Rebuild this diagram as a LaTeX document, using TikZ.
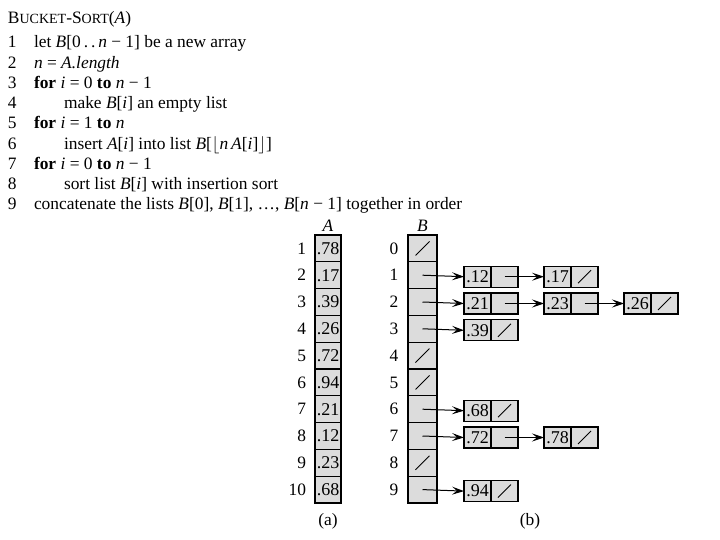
\documentclass[tikz,border=0pt]{standalone}
\usepackage{fontspec}
\setmainfont{Liberation Serif}
\usetikzlibrary{arrows.meta}
\definecolor{cellgray}{RGB}{220,220,220}
\newcommand\myfs{\fontsize{17.4}{20}\selectfont}
\newcommand\valfs{\fontsize{18}{20}\selectfont}
\newcommand\mysc{\fontsize{14}{15}\selectfont}
\tikzset{
  base/.style={inner sep=0pt, outer sep=0pt, font=\myfs},
  codeline/.style={base, anchor=base west},
  acell/.style={base, font=\valfs, draw=black, fill=cellgray, line width=1.1pt, minimum width=26pt, minimum height=26.8pt},
  bcell/.style={base, draw=black, fill=cellgray, line width=1.1pt, minimum width=29pt, minimum height=26.8pt},
  keycell/.style={base, font=\valfs, draw=black, fill=cellgray, line width=1.1pt, minimum width=27pt, minimum height=21pt},
  ptrcell/.style={keycell},
  idx/.style={base},
  ptr/.style={line width=1pt, -{Stealth[length=12pt,width=8pt,inset=5pt]}},
  nil/.style={line width=0.9pt}
}
\begin{document}
\begin{tikzpicture}[x=1pt,y=-1pt]
\useasboundingbox (0,0) rectangle (720,540);
% pseudocode
\node[codeline] (title) at (8,24) {B{\mysc UCKET}-S{\mysc ORT}(\textit{A})};
\foreach \k in {1,...,9} \node[codeline] (ln\k) at (8,{48+20.25*(\k-1)}) {\k};
\node[codeline] (c1) at (34,48) {let \textit{B}[0\,.\,.\,\textit{n} − 1] be a new array};
\node[codeline] (c2) at (34,68.25) {\textit{n} = \textit{A.length}};
\node[codeline] (c3) at (34,88.5) {\textbf{for} \textit{i} = 0 \textbf{to} \textit{n} − 1};
\node[codeline] (c4) at (64,108.75) {make \textit{B}[\textit{i}] an empty list};
\node[codeline] (c5) at (34,129) {\textbf{for} \textit{i} = 1 \textbf{to} \textit{n}};
\node[codeline] (c6) at (64,149.25) {insert \textit{A}[\textit{i}] into list \textit{B}[$\lfloor$\textit{n\,A}[\textit{i}]$\rfloor$]};
\node[codeline] (c7) at (34,169.5) {\textbf{for} \textit{i} = 0 \textbf{to} \textit{n} − 1};
\node[codeline] (c8) at (64,189.75) {sort list \textit{B}[\textit{i}] with insertion sort};
\node[codeline] (c9) at (34,210) {concatenate the lists \textit{B}[0], \textit{B}[1], \dots, \textit{B}[\textit{n} − 1] together in order};
% array A
\node[base, anchor=base] (labA) at (328,232) {\textit{A}};
\foreach \i/\v in {1/.78,2/.17,3/.39,4/.26,5/.72,6/.94,7/.21,8/.12,9/.23,10/.68}{
  \node[acell] (a\i) at (328,{235+26.8*(\i-0.5)}) {\v};
  \node[idx, anchor=east] (ai\i) at (306,{235+26.8*(\i-0.5)}) {\i};
}
% array B
\node[base, anchor=base] (labB) at (422.5,232) {\textit{B}};
\foreach \i in {0,...,9}{
  \node[bcell] (b\i) at (422.5,{235+26.8*(\i+0.5)}) {};
  \node[idx] (bi\i) at (394,{235+26.8*(\i+0.5)}) {\i};
}
\foreach \i in {0,4,5,8}
  \draw[nil] ([shift={(-7,7)}]b\i.center) -- ([shift={(7,-7)}]b\i.center);
% list nodes
\newcommand\lnode[4]{% name, x, row, value
  \node[keycell] (k#1) at (#2,{236.5+26.8*(#3+0.5)}) {#4};
  \node[ptrcell] (p#1) at ({#2+27},{236.5+26.8*(#3+0.5)}) {};
}
\lnode{12}{477.5}{1}{.12}
\lnode{17}{557.5}{1}{.17}
\lnode{21}{477.5}{2}{.21}
\lnode{23}{557.5}{2}{.23}
\lnode{26}{637.5}{2}{.26}
\lnode{39}{477.5}{3}{.39}
\lnode{68}{477.5}{6}{.68}
\lnode{72}{477.5}{7}{.72}
\lnode{78}{557.5}{7}{.78}
\lnode{94}{477.5}{9}{.94}
\foreach \n in {17,26,39,68,78,94}
  \draw[nil] ([shift={(-6.5,6.5)}]p\n.center) -- ([shift={(6.5,-6.5)}]p\n.center);
% pointers
\draw[ptr] (b1.center) -- (k12.west);
\draw[ptr] (b2.center) -- (k21.west);
\draw[ptr] (b3.center) -- (k39.west);
\draw[ptr] (b6.center) -- (k68.west);
\draw[ptr] (b7.center) -- (k72.west);
\draw[ptr] (b9.center) -- (k94.west);
\draw[ptr] (p12.center) -- (k17.west);
\draw[ptr] (p21.center) -- (k23.west);
\draw[ptr] (p23.center) -- (k26.west);
\draw[ptr] (p72.center) -- (k78.west);
% captions
\node[base, anchor=base] (capa) at (328,525) {(a)};
\node[base, anchor=base] (capb) at (530,525) {(b)};
\end{tikzpicture}
\end{document}
